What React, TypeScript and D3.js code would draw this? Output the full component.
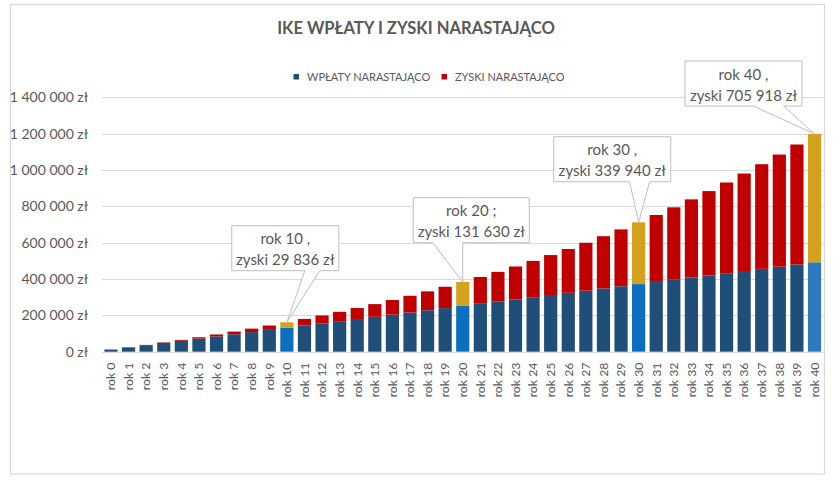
import React from "react";
import * as d3 from "d3";

const title = "IKE WPŁATY I ZYSKI NARASTAJĄCO";
const seriesKeys = ["wplaty", "zyski"];
const legendLabels = ["WPŁATY NARASTAJĄCO", "ZYSKI NARASTAJĄCO"];
const categories = [
  "rok 0", "rok 1", "rok 2", "rok 3", "rok 4", "rok 5", "rok 6", "rok 7", "rok 8", "rok 9",
  "rok 10", "rok 11", "rok 12", "rok 13", "rok 14", "rok 15", "rok 16", "rok 17", "rok 18", "rok 19",
  "rok 20", "rok 21", "rok 22", "rok 23", "rok 24", "rok 25", "rok 26", "rok 27", "rok 28", "rok 29",
  "rok 30", "rok 31", "rok 32", "rok 33", "rok 34", "rok 35", "rok 36", "rok 37", "rok 38", "rok 39",
  "rok 40",
];
const wplaty = [
  12000, 24000, 36000, 48000, 60000, 72000, 84000, 96000, 108000, 120000,
  132000, 144000, 156000, 168000, 180000, 192000, 204000, 216000, 228000, 240000,
  252000, 264000, 276000, 288000, 300000, 312000, 324000, 336000, 348000, 360000,
  372000, 384000, 396000, 408000, 420000, 432000, 444000, 456000, 468000, 480000,
  492000,
];
const zyski = [
  0, 480, 1459, 2958, 4996, 7596, 10780, 14571, 18994, 24073,
  29836, 36310, 43522, 51503, 60283, 69894, 80370, 91745, 104055, 117337,
  131630, 146976, 163415, 180991, 199751, 219741, 241011, 263611, 287595, 313019,
  339940, 368418, 398514, 430295, 463827, 499180, 536427, 575644, 616910, 660306,
  705918,
];
const yTicks = [0, 200000, 400000, 600000, 800000, 1000000, 1200000, 1400000];
const highlighted = ["rok 10", "rok 20", "rok 30", "rok 40"];
const calloutFirstLines = ["rok 10 ,", "rok 20 ;", "rok 30 ,", "rok 40 ,"];

// styling / layout (not data)
const W = 840;
const H = 480;
const FONT = "Lato, 'Open Sans', sans-serif";
const TEXT = "#595959";
const GRID = "#d9d9d9";
const colBlue = "#1f4e79";
const colRed = "#c00000";
const colHiBlue = ["#0b6fc1", "#0b6fc1", "#0b6fc1", "#2f78c0"];
const colGold = "#d4a11c";
// callout box layout offsets relative to the bar top: [dxCenter, dyBottom, width, wedgeL, wedgeR]
const calloutLayout = [
  [-1.6, -51.6, 107, 18, 33],
  [8.5, -39.3, 116, -30, 0],
  [-26.4, -40.6, 117, -9, 11],
  [-71, -28, 117, -61, -31],
];
const BOX_H = 45;

const plPL = d3.formatLocale({
  decimal: ",",
  thousands: "\u00a0",
  grouping: [3],
  currency: ["", "\u00a0zł"],
});
const fmt = plPL.format("$,.0f");

export default function App() {
  const x = d3
    .scaleBand<string>()
    .domain(categories)
    .range([102.2, 823.3])
    .paddingInner(0.25)
    .paddingOuter(0.125);
  const y = d3.scaleLinear().domain([0, 1400000]).range([351.7, 97.3]);

  const rows = categories.map((c, i) => ({ cat: c, wplaty: wplaty[i], zyski: zyski[i] }));
  const stacked = d3.stack<any>().keys(seriesKeys)(rows);

  const colorFor = (key: string, cat: string) => {
    const h = highlighted.indexOf(cat);
    if (key === "wplaty") return h >= 0 ? colHiBlue[h] : colBlue;
    return h >= 0 ? colGold : colRed;
  };

  return (
    <div style={{ position: "fixed", left: 0, top: 0, width: W, height: H, background: "#fff" }}>
      <svg width={W} height={H} style={{ display: "block" }} fontFamily={FONT}>
        <rect x={0} y={0} width={W} height={H} fill="#fff" />
        <rect x={10.5} y={4.5} width={814} height={469.5} fill="#fff" stroke={GRID} strokeWidth={1.2} />

        <text x={416} y={33.5} textAnchor="middle" fontSize={16.6} fontWeight={700} fill={TEXT}>
          {title}
        </text>

        {/* legend */}
        {legendLabels.map((lab, i) => {
          const lx = [293.5, 441.5][i];
          return (
            <g key={lab}>
              <rect x={lx} y={74} width={5.5} height={5.5} fill={i === 0 ? colBlue : colRed} />
              <text x={lx + 13.5} y={80.5} fontSize={11} fill={TEXT}>
                {lab}
              </text>
            </g>
          );
        })}

        {/* grid + y labels */}
        {yTicks.map((t) => (
          <g key={t}>
            <line x1={102.2} x2={823.3} y1={Math.round(y(t)) + 0.5} y2={Math.round(y(t)) + 0.5} stroke={GRID} strokeWidth={1} />
            <text x={88} y={y(t)} dy="0.35em" textAnchor="end" fontSize={14} fill={TEXT}>
              {fmt(t)}
            </text>
          </g>
        ))}

        {/* bars */}
        {stacked.map((s) => (
          <g key={s.key}>
            {s.map((d: any) => (
              <rect
                key={d.data.cat}
                x={x(d.data.cat)}
                y={y(d[1])}
                width={x.bandwidth()}
                height={Math.max(0, y(d[0]) - y(d[1]))}
                fill={colorFor(s.key, d.data.cat)}
              />
            ))}
          </g>
        ))}

        {/* x labels */}
        {categories.map((c) => {
          const cx = (x(c) as number) + x.bandwidth() / 2;
          return (
            <text
              key={c}
              transform={`translate(${cx},362.5) rotate(-90)`}
              dy="0.35em"
              textAnchor="end"
              fontSize={12.3}
              fill={TEXT}
            >
              {c}
            </text>
          );
        })}

        {/* callouts */}
        {highlighted.map((cat, k) => {
          const i = categories.indexOf(cat);
          const tipX = (x(cat) as number) + x.bandwidth() / 2;
          const tipY = y(wplaty[i] + zyski[i]);
          const [dxc, dyb, bw, wl, wr] = calloutLayout[k];
          const cx = tipX + dxc;
          const bottom = tipY + dyb;
          const top = bottom - BOX_H;
          const left = cx - bw / 2;
          const right = cx + bw / 2;
          const path = `M${left},${top}H${right}V${bottom}H${tipX + wr}L${tipX},${tipY}L${tipX + wl},${bottom}H${left}Z`;
          return (
            <g key={cat}>
              <path d={path} fill="#fff" stroke="#bfbfbf" strokeWidth={1} />
              <text x={cx} y={top + 18.5} textAnchor="middle" fontSize={15} fill={TEXT}>
                {calloutFirstLines[k]}
              </text>
              <text x={cx} y={top + 39.5} textAnchor="middle" fontSize={15} fill={TEXT}>
                {"zyski " + fmt(zyski[i])}
              </text>
            </g>
          );
        })}
      </svg>
    </div>
  );
}
